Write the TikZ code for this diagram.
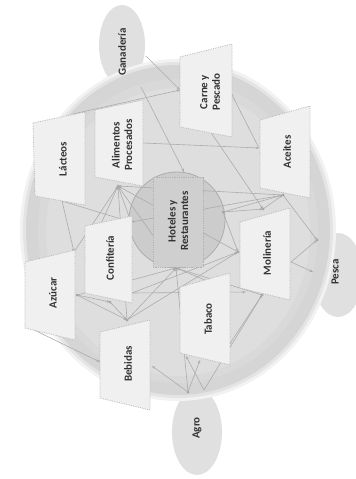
\documentclass[tikz,border=0pt]{standalone}
\usepackage{fontspec}
\setmainfont{Carlito}
\usetikzlibrary{arrows.meta}
\begin{document}
\begin{tikzpicture}[x=1bp,y=-1bp,
 sheet/.style={fill=gray!12, draw=gray!55, densely dotted, line width=0.8bp},
 blob/.style={fill=gray!24, draw=none},
 lbl/.style={rotate=90, font=\fontsize{11}{12.5}\selectfont\bfseries, text=black!80, align=center, inner sep=0pt},
 link/.style={draw=gray!65, line width=0.6bp, -{Stealth[length=3.5bp,width=2.6bp]}},
 hub/.style={circle, fill=gray!70, inner sep=0pt, minimum size=3bp}]
\useasboundingbox (0,0) rectangle (355,479);
\fill[white] (0,0) rectangle (355,479);
% outer blobs
\fill[blob] (122,45) ellipse [x radius=23bp, y radius=40bp];
\fill[blob] (197,432) ellipse [x radius=25bp, y radius=43bp];
\fill[blob] (338,275) ellipse [x radius=25bp, y radius=42bp];
% big disk with soft edge
\fill[gray!10] (178,230) ellipse [x radius=158bp, y radius=171bp];
\fill[gray!21] (178,230) ellipse [x radius=155bp, y radius=168bp];
\fill[gray!33] (178,230) ellipse [x radius=152bp, y radius=165bp];
\fill[gray!30] (178,231) ellipse [x radius=140bp, y radius=152bp];
\fill[gray!26] (178,232) ellipse [x radius=132bp, y radius=144bp];
% central circle
\filldraw[fill=gray!40, draw=gray!65, line width=0.8bp] (177,220) circle [radius=48bp];
% hub coordinates
\coordinate (gan) at (146,56);
\coordinate (ganB) at (141,87);
\coordinate (carL) at (180,90);
\coordinate (carR) at (231,93);
\coordinate (carB) at (210,131);
\coordinate (lacT) at (73,114);
\coordinate (lacB) at (62,201);
\coordinate (aceL) at (259,148);
\coordinate (aceB) at (283,195);
\coordinate (aliR) at (143,143);
\coordinate (aliB) at (118,186);
\coordinate (hotT) at (184,172);
\coordinate (hotR) at (223,212);
\coordinate (hotL) at (131,222);
\coordinate (hotB) at (176,268);
\coordinate (conT) at (100,226);
\coordinate (conR) at (132,293);
\coordinate (conB) at (110,302);
\coordinate (molT) at (263,209);
\coordinate (molL) at (238,252);
\coordinate (molR) at (291,262);
\coordinate (molB) at (262,295);
\coordinate (molBL) at (246,292);
\coordinate (pesT) at (317,240);
\coordinate (pesL) at (313,272);
\coordinate (azuT) at (74,252);
\coordinate (azuR) at (77,295);
\coordinate (azuB) at (30,328);
\coordinate (bebT) at (127,320);
\coordinate (bebL) at (100,362);
\coordinate (bebR) at (152,366);
\coordinate (tabT) at (205,280);
\coordinate (tabR) at (229,345);
\coordinate (tabB1) at (186,356);
\coordinate (tabB2) at (200,360);
\coordinate (agroT) at (188,392);
\coordinate (agroT2) at (204,390);
% connectors
\draw[link] (gan) -- (carL);
\draw[link] (ganB) -- (hotT);
\draw[link] (lacT) -- (carL);
\draw[link] (aceL) -- (carR);
\draw[link] (carB) -- (molT);
\draw[link] (aliR) -- (aceL);
\draw[link] (azuT) -- (aliB);
\draw[link] (lacB) -- (azuT);
\draw[link] (conT) -- (aliB);
\draw[link] (hotL) -- (aliB);
\draw[link] (hotB) -- (aliB);
\draw[link] (molL) -- (aliB);
\draw[link] (bebT) -- (aliB);
\draw[link] (aceB) -- (aliB);
\draw[link] (hotR) -- (aceB);
\draw[link] (hotR) -- (molT);
\draw[link] (molT) -- (aceB);
\draw[link] (aceB) -- (hotL);
\draw[link] (aceB) -- (pesT);
\draw[link] (molR) -- (pesT);
\draw[link] (molR) -- (pesL);
\draw[link] (hotR) -- (molL);
\draw[link] (conR) -- (molBL);
\draw[link] (molB) -- (tabR);
\draw[link] (agroT2) -- (molB);
\draw[link] (molB) -- (hotB);
\draw[link] (azuR) -- (conB);
\draw[link] (azuR) -- (bebT);
\draw[link] (azuR) -- (hotB);
\draw[link] (conB) -- (bebT);
\draw[link] (bebT) -- (hotB);
\draw[link] (bebT) -- (molL);
\draw[link] (azuB) -- (bebL);
\draw[link] (agroT) -- (bebR);
\draw[link] (agroT) -- (tabB2);
\draw[link] (agroT2) -- (tabB1);
\draw[link] (agroT) -- (hotB);
\draw[link] (tabT) -- (hotB);
\draw[link] (conR) -- (molL);
\draw[link] (lacB) -- (hotL);
% hub dots
\foreach \h in {aliB,aceB,molT,molB,molL,azuR,conB,bebT,pesT,hotB,hotR,agroT}
  \node[hub] at (\h) {};
% sheets
\filldraw[fill=gray!38, draw=gray!60, densely dotted, line width=0.8bp] (153,177) rectangle (203,267);
\filldraw[sheet] (180,57) -- (232,44) -- (232,137) -- (180,127) -- cycle;
\filldraw[sheet] (260,120) -- (310,106) -- (310,198) -- (260,188) -- cycle;
\filldraw[sheet] (33,123) -- (85,112) -- (85,205) -- (35,196) -- cycle;
\filldraw[sheet] (95,110) -- (143,100) -- (143,186) -- (95,177) -- cycle;
\filldraw[sheet] (85,226) -- (132,216) -- (132,303) -- (85,293) -- cycle;
\filldraw[sheet] (240,222) -- (290,208) -- (290,300) -- (240,288) -- cycle;
\filldraw[sheet] (25,262) -- (75,250) -- (75,340) -- (25,328) -- cycle;
\filldraw[sheet] (180,287) -- (230,273) -- (230,365) -- (180,353) -- cycle;
\filldraw[sheet] (100,332) -- (150,320) -- (150,410) -- (100,398) -- cycle;
% labels
\node[lbl] (tGan) at (122,52) {Ganadería};
\node[lbl] (tCar) at (210,92) {Carne y\\Pescado};
\node[lbl] (tAce) at (287,152) {Aceites};
\node[lbl] (tLac) at (63,159) {Lácteos};
\node[lbl] (tAli) at (122,145) {Alimentos\\Procesados};
\node[lbl] (tHot) at (178,221) {Hoteles y\\Restaurantes};
\node[lbl] (tCon) at (110,258) {Confitería};
\node[lbl] (tMol) at (267,253) {Molinería};
\node[lbl] (tAzu) at (53,293) {Azúcar};
\node[lbl] (tTab) at (208,319) {Tabaco};
\node[lbl] (tBeb) at (128,364) {Bebidas};
\node[lbl] (tAgr) at (197,428) {Agro};
\node[lbl] (tPes) at (335,272) {Pesca};
\end{tikzpicture}
\end{document}
